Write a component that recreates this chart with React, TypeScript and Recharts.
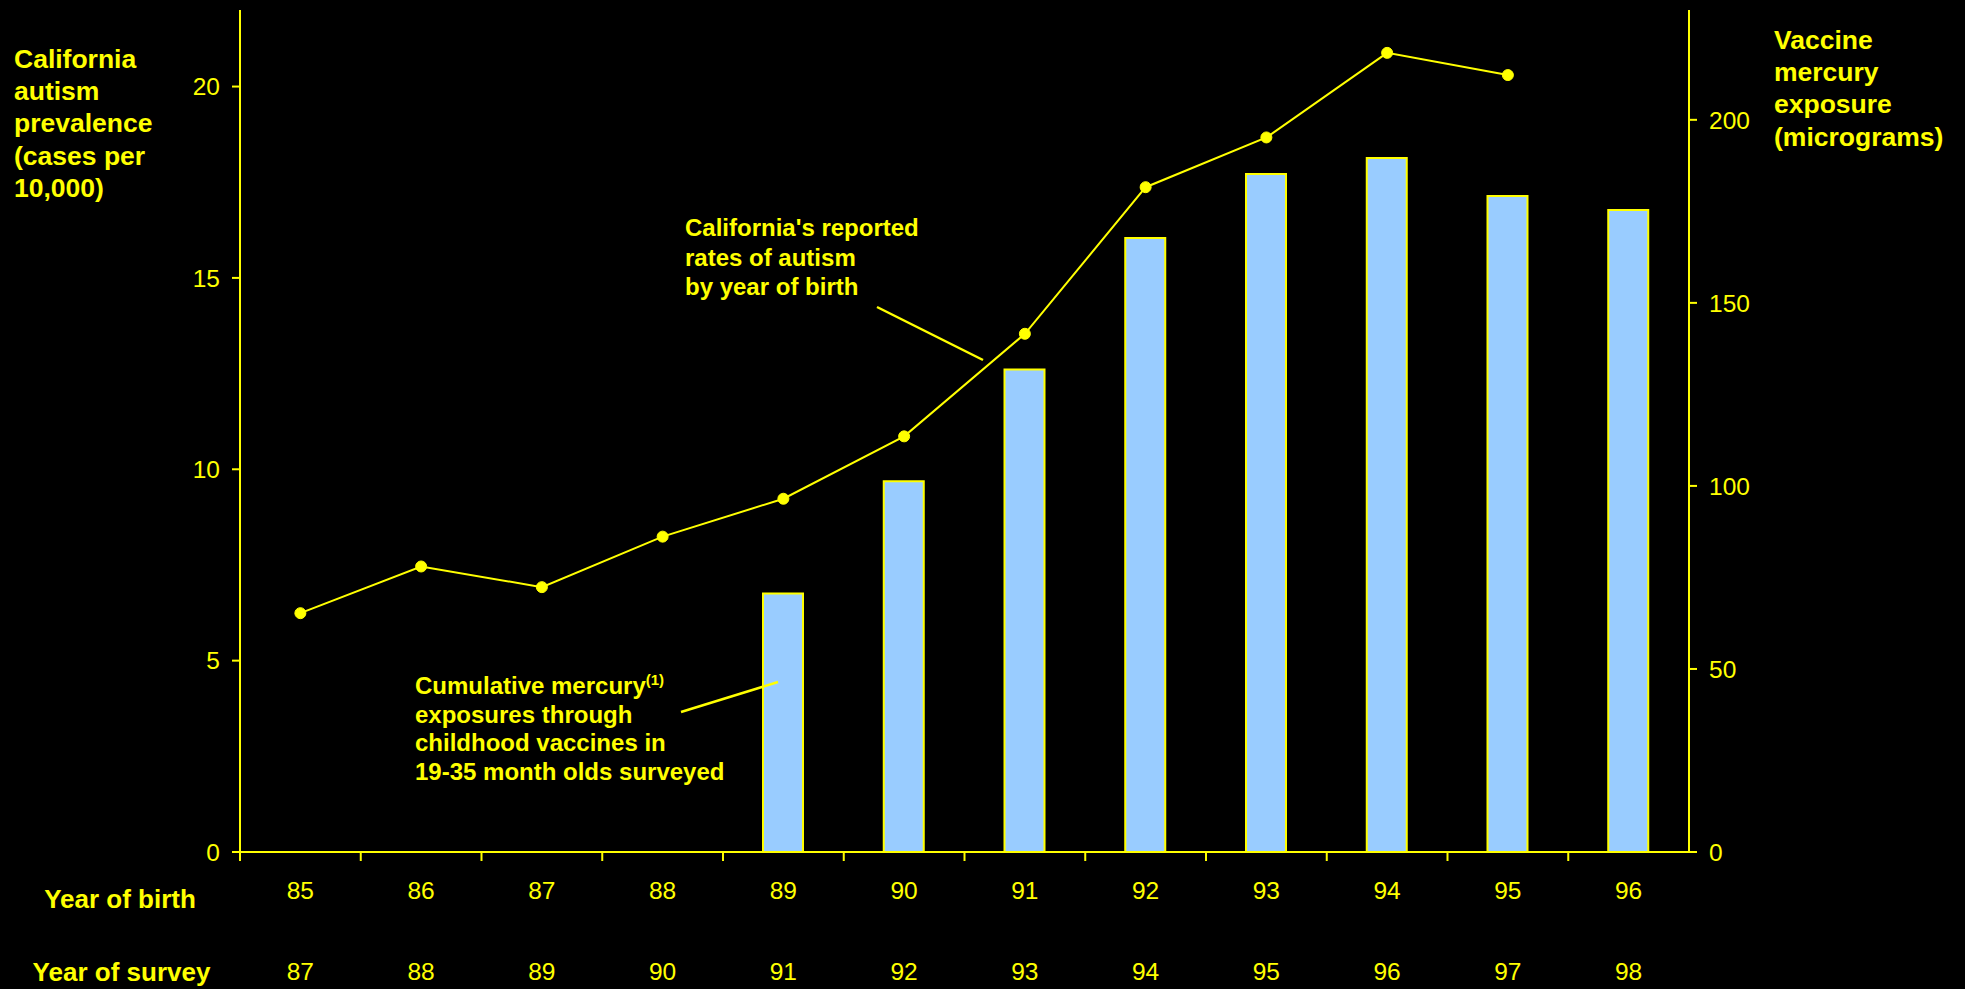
import {
  Bar,
  ComposedChart,
  Line,
  XAxis,
  YAxis,
} from "recharts";

const birthYears = ["85", "86", "87", "88", "89", "90", "91", "92", "93", "94", "95", "96"];
const surveyYears = ["87", "88", "89", "90", "91", "92", "93", "94", "95", "96", "97", "98"];
const autismRate = [6.24, 7.46, 6.92, 8.24, 9.23, 10.86, 13.54, 17.37, 18.67, 20.88, 20.3, null];
const mercuryExposure = [null, null, null, null, 70.6, 101.3, 131.8, 167.7, 185.2, 189.6, 179.2, 175.4];
const leftTicks = [0, 5, 10, 15, 20];
const rightTicks = [0, 50, 100, 150, 200];

const data = birthYears.map((birth, i) => ({
  birth,
  survey: surveyYears[i],
  autism: autismRate[i],
  mercury: mercuryExposure[i],
}));

const W = 1965;
const H = 989;
const LEFT = 240;
const RIGHT = 276;
const TOP = 10;
const BOTTOM = 137;
const AXIS_Y = H - BOTTOM;
const STEP = (W - LEFT - RIGHT) / birthYears.length;

const YELLOW = "#FFFF00";
const FONT = "'Liberation Sans', Arial, sans-serif";

// year of birth + year of survey under each category, tick marks on the band edges
const XTick = (props: any) => {
  const { x, payload, index } = props;
  const half = STEP / 2;
  return (
    <g>
      <line
        x1={x - half}
        x2={x - half}
        y1={AXIS_Y}
        y2={AXIS_Y + 9}
        stroke={YELLOW}
        strokeWidth={2}
      />
      <text
        x={x}
        y={AXIS_Y + 47}
        textAnchor="middle"
        fill={YELLOW}
        fontSize={24.5}
        fontFamily={FONT}
      >
        {payload.value}
      </text>
      <text
        x={x}
        y={AXIS_Y + 128}
        textAnchor="middle"
        fill={YELLOW}
        fontSize={24.5}
        fontFamily={FONT}
      >
        {surveyYears[index]}
      </text>
    </g>
  );
};

const boldText = {
  position: "absolute" as const,
  color: YELLOW,
  fontFamily: FONT,
  fontWeight: 700,
  whiteSpace: "nowrap" as const,
};

export default function App() {
  return (
    <div
      style={{
        position: "absolute",
        left: 0,
        top: 0,
        width: W,
        height: H,
        background: "#000",
        overflow: "hidden",
      }}
    >
      <ComposedChart
        width={W}
        height={H}
        data={data}
        margin={{ top: TOP, right: 0, left: 0, bottom: 0 }}
      >
        <XAxis
          dataKey="birth"
          height={BOTTOM}
          interval={0}
          tickLine={false}
          axisLine={{ stroke: YELLOW, strokeWidth: 2 }}
          tick={<XTick />}
        />
        <YAxis
          yAxisId="left"
          width={LEFT}
          domain={[0, 22]}
          ticks={leftTicks}
          tickSize={8}
          tickMargin={12}
          stroke={YELLOW}
          axisLine={{ stroke: YELLOW, strokeWidth: 2 }}
          tickLine={{ stroke: YELLOW, strokeWidth: 2 }}
          tick={{ fill: YELLOW, fontSize: 24.5, fontFamily: FONT }}
        />
        <YAxis
          yAxisId="right"
          orientation="right"
          width={RIGHT}
          domain={[0, 230]}
          ticks={rightTicks}
          tickSize={8}
          tickMargin={12}
          stroke={YELLOW}
          axisLine={{ stroke: YELLOW, strokeWidth: 2 }}
          tickLine={{ stroke: YELLOW, strokeWidth: 2 }}
          tick={{ fill: YELLOW, fontSize: 24.5, fontFamily: FONT }}
        />
        <Bar
          yAxisId="right"
          dataKey="mercury"
          barSize={40}
          fill="#99CCFF"
          stroke={YELLOW}
          strokeWidth={2}
          isAnimationActive={false}
        />
        <Line
          yAxisId="left"
          type="linear"
          dataKey="autism"
          stroke={YELLOW}
          strokeWidth={2}
          dot={{ r: 5.5, fill: YELLOW, stroke: YELLOW, strokeWidth: 1 }}
          activeDot={false}
          isAnimationActive={false}
        />
      </ComposedChart>

      <svg
        width={W}
        height={H}
        style={{ position: "absolute", left: 0, top: 0, pointerEvents: "none" }}
      >
        <line x1={877} y1={307} x2={983} y2={360} stroke={YELLOW} strokeWidth={2.5} />
        <line x1={681} y1={712} x2={778} y2={682} stroke={YELLOW} strokeWidth={2.5} />
      </svg>

      <div style={{ ...boldText, left: 14, top: 43, fontSize: 26.5, lineHeight: "32.2px" }}>
        California
        <br />
        autism
        <br />
        prevalence
        <br />
        (cases per
        <br />
        10,000)
      </div>

      <div style={{ ...boldText, left: 1774, top: 24, fontSize: 26.5, lineHeight: "32.2px" }}>
        Vaccine
        <br />
        mercury
        <br />
        exposure
        <br />
        (micrograms)
      </div>

      <div style={{ ...boldText, left: 685, top: 213, fontSize: 24, lineHeight: "29.5px" }}>
        California's reported
        <br />
        rates of autism
        <br />
        by year of birth
      </div>

      <div style={{ ...boldText, left: 415, top: 672, fontSize: 24, lineHeight: "28.6px" }}>
        Cumulative mercury
        <sup style={{ fontSize: 15, lineHeight: 0 }}>(1)</sup>
        <br />
        exposures through
        <br />
        childhood vaccines in
        <br />
        19-35 month olds surveyed
      </div>

      <div
        style={{
          ...boldText,
          left: 0,
          width: 240,
          textAlign: "center",
          top: 883,
          fontSize: 26,
          lineHeight: "32px",
        }}
      >
        Year of birth
      </div>
      <div
        style={{
          ...boldText,
          left: 0,
          width: 243,
          textAlign: "center",
          top: 956,
          fontSize: 26,
          lineHeight: "32px",
        }}
      >
        Year of survey
      </div>
    </div>
  );
}
